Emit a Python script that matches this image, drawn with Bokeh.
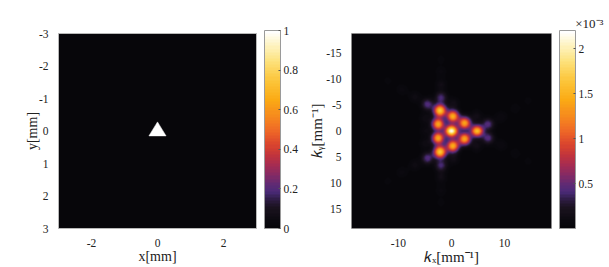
import numpy as np
from bokeh.embed import file_html
from bokeh.resources import INLINE
from bokeh.layouts import row
from bokeh.models import ColorBar, FixedTicker, LinearColorMapper, Range1d, Title
from bokeh.plotting import figure

# Left panel: triangular aperture
tri_x = [0.0, -0.26, 0.26]
tri_y = [-0.28, 0.15, 0.15]
left_x_ticks = [-2, 0, 2]
left_y_ticks = [-3, -2, -1, 0, 1, 2, 3]
left_bar_ticks = [0, 0.2, 0.4, 0.6, 0.8, 1]

# Right panel: spots of the diffraction pattern (mm^-1, units of 1e-3)
spot_kx = [0.0, 0.25, 0.25, 2.5, 2.5, 4.9, -2.55, -2.55, -2.2, -2.2,
           -2.0, -2.0, -4.6, -4.6, 7.0, 7.0,
           0.4, 0.4, 4.8, 4.8, -5.0, -5.0, -5.0,
           -2.0, -2.0, -2.0, -2.0, -2.0, -2.0,
           -7.0, -7.0, -9.4, -9.4, -12.0, -12.0, -15.0, -15.0,
           9.4, 9.4, 12.0, 12.0, 14.5, 14.5, 17.0, 17.0]
spot_ky = [0.0, -2.9, 2.95, -1.6, 1.6, 0.0, -1.4, 1.45, -4.0, 4.1,
           -6.5, 6.7, -5.2, 5.3, -1.4, 1.45,
           -5.4, 5.4, -3.0, 3.0, -2.5, 0.0, 2.5,
           -9.0, 9.0, -11.5, 11.5, -14.0, 14.0,
           -6.6, 6.6, -8.0, 8.0, -9.7, 9.7, -11.5, 11.5,
           -2.8, 2.8, -4.4, 4.4, -5.9, 5.9, -7.3, 7.3]
spot_amp = [2.2, 1.45, 1.45, 1.4, 1.4, 1.6, 1.4, 1.4, 1.65, 1.65,
            0.40, 0.40, 0.44, 0.44, 0.44, 0.44,
            0.15, 0.15, 0.15, 0.15, 0.13, 0.11, 0.13,
            0.14, 0.14, 0.08, 0.08, 0.05, 0.05,
            0.12, 0.12, 0.08, 0.08, 0.05, 0.05, 0.03, 0.03,
            0.10, 0.10, 0.07, 0.07, 0.05, 0.05, 0.03, 0.03]
right_x_ticks = [-10, 0, 10]
right_y_ticks = [-15, -10, -5, 0, 5, 10, 15]
right_bar_ticks = [0.5, 1, 1.5, 2]

# Colour scale
stop_pos = [0.00, 0.05, 0.10, 0.14, 0.18, 0.22, 0.27, 0.32, 0.37, 0.42, 0.48, 0.55, 0.65, 0.75, 0.85, 0.93, 1.00]
stop_col = ["#07060a", "#0e0b12", "#1b1320", "#2e1c44", "#4a2a78", "#5f2a74", "#882a62", "#a82c50", "#c2343c",
            "#d9442e", "#ec6228", "#f58220", "#fbaa14", "#fcc53a", "#fde27c", "#fef3c0", "#ffffff"]
rgb = np.array([[int(c[i:i + 2], 16) for i in (1, 3, 5)] for c in stop_col], float)
lev = np.linspace(0, 1, 64)
palette = ["#%02x%02x%02x" % tuple(int(round(np.interp(t, stop_pos, rgb[:, j]))) for j in range(3)) for t in lev]

FONT = "Liberation Serif"
INK = "#222222"
EDGE = "#b8b8b8"


def panel(width, left, right, xr, yr, xt, yt, mapper, bar_ticks):
    p = figure(width=width, height=267, x_range=xr, y_range=yr, output_backend="svg", toolbar_location=None,
               min_border_left=left, min_border_right=right, min_border_top=33, min_border_bottom=36,
               outline_line_color=EDGE, background_fill_color=palette[0], margin=0)
    p.grid.visible = False
    for ax, ticks in ((p.xaxis[0], xt), (p.yaxis[0], yt)):
        ax.ticker = FixedTicker(ticks=ticks)
        ax.major_label_overrides = {t: str(t) for t in ticks}
        ax.major_tick_line_color = None
        ax.minor_tick_line_color = None
        ax.axis_line_color = None
        ax.major_label_text_font = FONT
        ax.major_label_text_font_size = "11.5px"
        ax.major_label_text_color = INK
        ax.axis_label_text_font = FONT
        ax.axis_label_text_font_size = "14px"
        ax.axis_label_text_font_style = "normal"
        ax.axis_label_text_color = INK
    p.yaxis[0].major_label_standoff = 4
    p.xaxis[0].major_label_standoff = 4
    cb = ColorBar(color_mapper=mapper, ticker=FixedTicker(ticks=bar_ticks), width=16, height=198, padding=0,
                  margin=0, location=(8, 0), bar_line_color="#9a9a9a", major_tick_line_color="#555555",
                  major_tick_in=2, major_tick_out=0, major_label_text_font=FONT,
                  major_label_text_font_size="11.5px", major_label_text_color=INK, label_standoff=3,
                  minor_tick_line_color=None)
    p.add_layout(cb, "right")
    return p


# Left figure
p1 = panel(305, 58, 49, Range1d(-3, 3), Range1d(3, -3), left_x_ticks, left_y_ticks,
           LinearColorMapper(palette=palette, low=0, high=1), left_bar_ticks)
p1.patch(tri_x, tri_y, fill_color="white", line_color="white", line_width=0.5)
p1.xaxis[0].axis_label = "x[mm]"
p1.yaxis[0].axis_label = "y[mm]"
p1.xaxis[0].axis_label_standoff = -1
p1.yaxis[0].axis_label_standoff = -4

# Right figure
KR = 18.85
right_mapper = LinearColorMapper(palette=palette, low=0, high=2.2)
p2 = panel(304, 46, 58, Range1d(-KR, KR), Range1d(KR, -KR), right_x_ticks, right_y_ticks,
           right_mapper, right_bar_ticks)
gx = np.linspace(-KR, KR, 198)
gy = np.linspace(-KR, KR, 198)
X, Y = np.meshgrid(gx, gy)
Z = np.zeros_like(X)
for sx, sy, a in zip(spot_kx, spot_ky, spot_amp):
    Z += a * np.exp(-((X - sx) ** 2 + (Y - sy) ** 2) / (2 * 0.78 ** 2))
Z = np.clip(Z, 0, 2.2)
p2.image(image=[Z], x=-KR, y=-KR, dw=2 * KR, dh=2 * KR, color_mapper=right_mapper)

p2.xaxis[0].axis_label = "\U0001D458\u2093[mm\u207b\u00b9]"
p2.yaxis[0].axis_label = "\U0001D458\u1d67[mm\u207b\u00b9]"
p2.xaxis[0].axis_label_standoff = -1
p2.yaxis[0].axis_label_standoff = -2
p2.xaxis[0].axis_label_text_font_size = "15px"
p2.yaxis[0].axis_label_text_font_size = "15px"

# colour-bar multiplier
p2.add_layout(Title(text="\u00d710\u207b\u00b3", text_font=FONT, text_font_size="13px", text_font_style="normal",
                    text_color=INK, align="right", offset=-52, standoff=5), "above")

layout = row(p1, p2, spacing=0)
open("out.html", "w").write(file_html(layout, INLINE))
